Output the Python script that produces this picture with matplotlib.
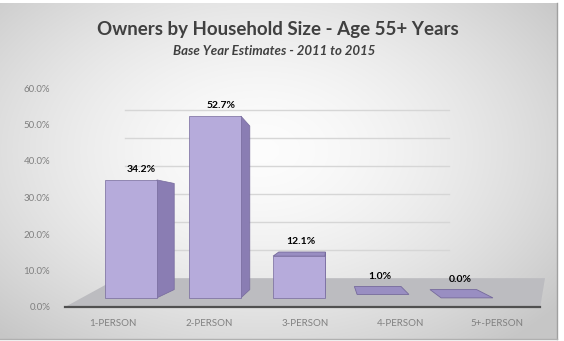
import numpy as np
import matplotlib.pyplot as plt
from matplotlib.patches import Polygon

plt.rcParams['font.family'] = ['Lato', 'DejaVu Sans']

# data
categories = ['1-PERSON', '2-PERSON', '3-PERSON', '4-PERSON', '5+-PERSON']
shares = [34.2, 52.7, 12.1, 1.0, 0.0]
y_ticks = [0, 10, 20, 30, 40, 50, 60]
title = 'Owners by Household Size - Age 55+ Years'
subtitle = 'Base Year Estimates - 2011 to 2015'

# fake 3d look
vp = (2.26, 25.2)      # vanishing point (data units)
depth = 0.1
bar_base = 2.5
bar_scale = 0.945
bar_half = 0.27
c_front = '#b6abdb'
c_side = '#8a7db3'
c_top = '#998ec2'
c_edge = '#766a9c'

W, H = 564, 341
fig = plt.figure(figsize=(W / 100, H / 100), dpi=100)

# background card with soft gradient
bg = fig.add_axes([0, 0, 1, 1])
xx, yy = np.meshgrid(np.arange(W), np.arange(H))
d = np.sqrt(((xx - 260) / 330.0) ** 2 + ((yy - 150) / 220.0) ** 2)
L = np.clip(0.99 - 0.17 * d ** 1.6, 0.78, 0.99)
img = np.dstack([L, L, L])
img[:3, :, :] = 1.0
img[:, 557:, :] = 1.0
img[339:, :, :] = 1.0
bg.imshow(img, extent=[0, W, H, 0], aspect='auto')
bg.plot([556.5, 556.5], [3, 339], color='#a0a0a0', lw=1)
bg.plot([0, 556.5], [338.5, 338.5], color='#b0b0b0', lw=1)
bg.set_xlim(0, W)
bg.set_ylim(H, 0)
bg.axis('off')

ax = fig.add_axes([60 / W, (H - 307) / H, 490 / W, 219 / H])
ax.set_facecolor('none')
ax.set_xlim(-0.552, 4.552)
ax.set_ylim(0, 60)


def back(p):
    return (p[0] + depth * (vp[0] - p[0]), p[1] + depth * (vp[1] - p[1]))


# floor
floor = Polygon([(-0.5, 0), (4.45, 0), (4.5, 7.9), (0.05, 7.9)],
                closed=True, facecolor='#bcbcc0', edgecolor='none', zorder=1)
ax.add_patch(floor)
ax.plot([-0.5, 4.45], [0, 0], color='#505050', lw=1.6, zorder=2, clip_on=False)

# back wall gridlines
for t in y_ticks[1:]:
    yb = 7.9 + 0.767 * t
    ax.plot([0.12, 3.5], [yb, yb], color='#d6d6d6', lw=1.0, zorder=0.5)

for i, v in enumerate(shares):
    xc = 0.1875 + 0.875 * i
    xl, xr = xc - bar_half, xc + bar_half
    yb, yt = bar_base, bar_base + bar_scale * v
    fl, fr = (xl, yb), (xr, yb)
    tl, tr = (xl, yt), (xr, yt)
    z = 3
    if v > 2:
        if xr < vp[0]:
            ax.add_patch(Polygon([fr, back(fr), back(tr), tr], facecolor=c_side,
                                 edgecolor=c_edge, lw=0.5, zorder=z))
        if xl > vp[0]:
            ax.add_patch(Polygon([fl, back(fl), back(tl), tl], facecolor=c_side,
                                 edgecolor=c_edge, lw=0.5, zorder=z))
    if yt < vp[1]:
        ax.add_patch(Polygon([tl, tr, back(tr), back(tl)], facecolor=c_top,
                             edgecolor=c_edge, lw=0.6, zorder=z + 0.1))
    if v > 2:
        ax.add_patch(Polygon([fl, fr, tr, tl], facecolor=c_front,
                             edgecolor=c_edge, lw=0.5, zorder=z + 0.2))
    ytop = max(yt, back(tl)[1])
    xlab = (xc + back((xc, yt))[0]) / 2
    ax.text(xlab, ytop + 1.6, f'{v:.1f}%', ha='center', va='bottom',
            fontsize=7.5, fontweight='bold', color='black', zorder=6)

ax.set_yticks(y_ticks)
ax.set_yticklabels([f'{t:.1f}%' for t in y_ticks])
ax.set_xticks(range(len(categories)))
ax.set_xticklabels(categories)
ax.tick_params(axis='both', length=0, labelsize=7, colors='#808080')
ax.tick_params(axis='y', pad=7)
ax.tick_params(axis='x', pad=9)
for s in ax.spines.values():
    s.set_visible(False)

fig.text(278 / W, 1 - 30 / H, title, ha='center', va='center',
         fontsize=13.5, fontweight='bold', color='#404040')
fig.text(274 / W, 1 - 51 / H, subtitle, ha='center', va='center',
         fontsize=9.5, fontweight='bold', style='italic', color='#404040')

fig.savefig('out.png', dpi=100)
